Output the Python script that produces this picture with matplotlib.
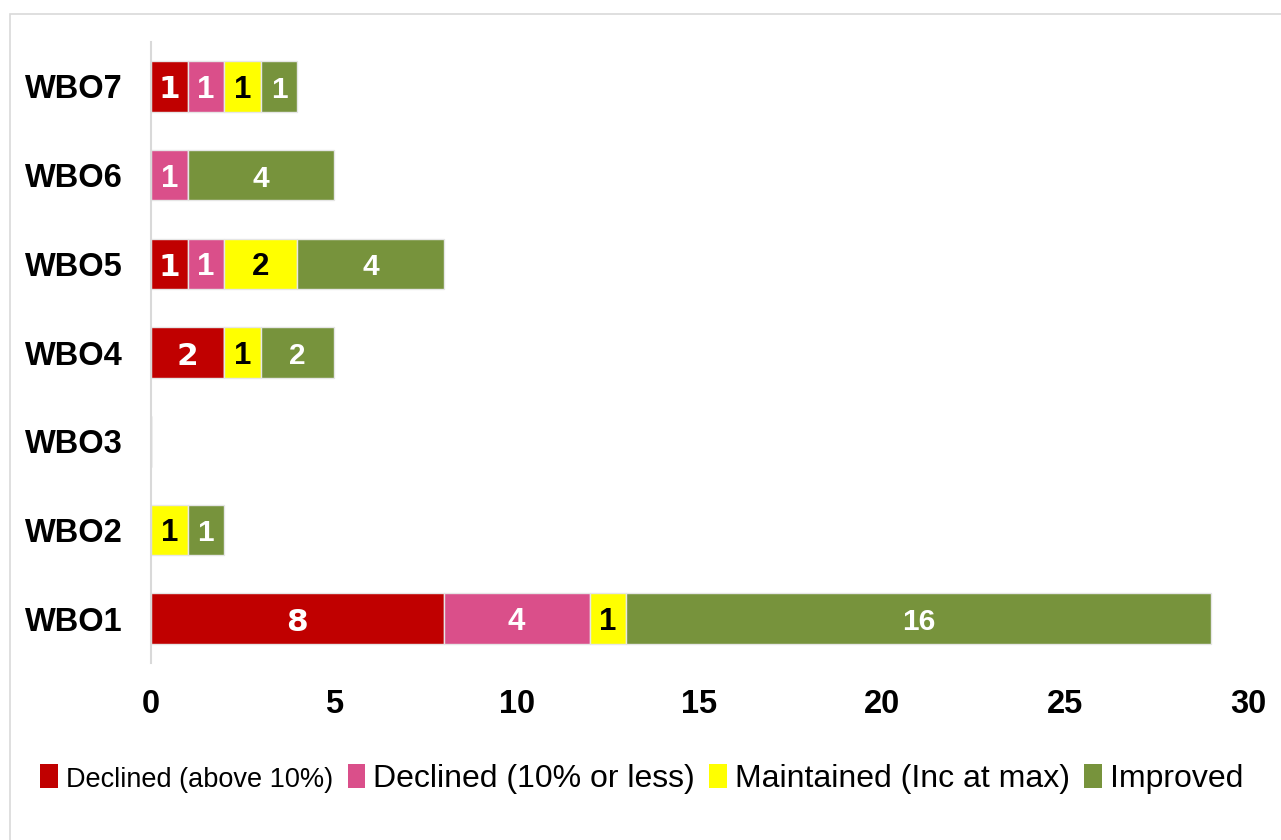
import matplotlib.pyplot as plt
from matplotlib.patches import Patch, Rectangle

# ---------------- Data ----------------
categories = ["WBO1", "WBO2", "WBO3", "WBO4", "WBO5", "WBO6", "WBO7"]
series_names = ["Declined (above 10%)", "Declined (10% or less)",
                "Maintained (Inc at max)", "Improved"]
declined_big = [8, 0, 0, 2, 1, 0, 1]
declined_small = [4, 0, 0, 0, 1, 1, 1]
maintained = [1, 1, 0, 1, 2, 0, 1]
improved = [16, 1, 0, 2, 4, 4, 1]

colors = ["#C00000", "#DA4F8A", "#FFFF00", "#77933C"]
label_colors = ["white", "white", "black", "white"]
label_sizes = [22.5, 22.5, 22.5, 21.5]
label_fonts = [["DejaVu Sans"], ["Liberation Sans"], ["Liberation Sans"], ["Liberation Sans"]]

plt.rcParams["font.family"] = ["Liberation Sans", "DejaVu Sans"]

fig = plt.figure(figsize=(12.81, 8.4), dpi=100)
ax = fig.add_axes([0.1179, 0.2107, 0.8563, 0.7393])

# light frame round the chart area
fig.patches.append(Rectangle((0.008, -0.01), 1.0, 0.993, transform=fig.transFigure,
                             fill=False, edgecolor="#d9d9d9", linewidth=1.2))

y = list(range(len(categories)))
left = [0] * len(categories)
for vals, name, col, lc, ls, lf in zip([declined_big, declined_small, maintained, improved],
                                       series_names, colors, label_colors, label_sizes,
                                       label_fonts):
    bars = ax.barh(y, vals, left=left, height=0.57, color=col, edgecolor="#e6e6e6",
                   linewidth=1, label=name)
    for b, v in zip(bars, vals):
        if v > 0:
            ax.text(b.get_x() + b.get_width() / 2, b.get_y() + b.get_height() / 2 - 0.04,
                    str(v), ha="center", va="center", color=lc, fontsize=ls,
                    fontweight="bold", family=lf)
    left = [a + b for a, b in zip(left, vals)]

ax.set_xlim(0, 30)
ax.set_ylim(-0.5, 6.5)
ax.set_xticks([0, 5, 10, 15, 20, 25, 30])
ax.set_yticks(y)
ax.set_yticklabels(categories)
for lab in ax.get_xticklabels() + ax.get_yticklabels():
    lab.set_fontweight("bold")
    lab.set_fontsize(23.5)
ax.tick_params(axis="both", length=0)
ax.tick_params(axis="x", pad=19)
ax.tick_params(axis="y", pad=20.5)
for s in ["top", "right", "bottom"]:
    ax.spines[s].set_visible(False)
ax.spines["left"].set_color("#d9d9d9")
ax.spines["left"].set_linewidth(1.5)

handles = [Patch(facecolor=c) for c in colors]
leg = fig.legend(handles, series_names, loc="center", bbox_to_anchor=(0.501, 0.073),
                 ncol=4, frameon=False, handlelength=0.55, handleheight=0.8,
                 handletextpad=0.25, columnspacing=0.45,
                 prop={"family": ["Liberation Sans", "DejaVu Sans"], "size": 23})
leg.get_texts()[0].set_fontsize(19.5)

fig.savefig("out.png", dpi=100)
